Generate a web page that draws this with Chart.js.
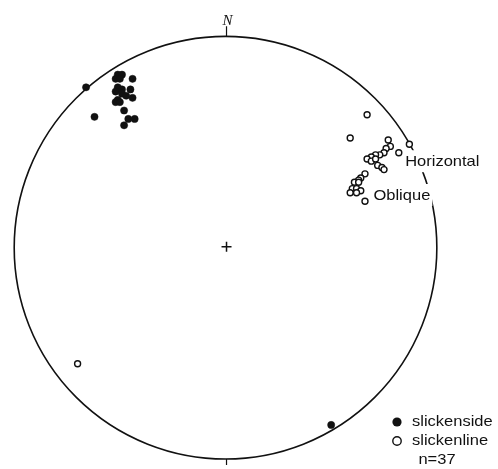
<!DOCTYPE html>
<html>
<head>
<meta charset="utf-8">
<script src="https://cdn.jsdelivr.net/npm/chart.js@4.4.1/dist/chart.umd.min.js"></script>
<style>
  html, body { margin: 0; padding: 0; background: #fff; }
  #wrap { width: 498px; height: 469px; }
</style>
</head>
<body>
<div id="wrap"><canvas id="net"></canvas></div>
<script>
// points in unit-circle coords (stereonet radius = 1, centre = 0,0)
const sideX = [-0.66, -0.51, -0.49, -0.52, -0.50, -0.44, -0.51, -0.49, -0.45, -0.52, -0.49,
               -0.47, -0.44, -0.51, -0.52, -0.50, -0.48, -0.46, -0.43, -0.48, -0.62, 0.50];
const sideY = [0.76, 0.82, 0.82, 0.80, 0.80, 0.80, 0.76, 0.75, 0.75, 0.74, 0.73,
               0.72, 0.71, 0.70, 0.69, 0.69, 0.65, 0.61, 0.61, 0.58, 0.62, -0.84];

const lineX = [0.67, 0.59, 0.77, 0.78, 0.76, 0.75, 0.73, 0.71, 0.69, 0.67, 0.69, 0.71, 0.72, 0.74,
               0.75, 0.82, 0.87, 0.66, 0.64, 0.63, 0.61, 0.63, 0.60, 0.62, 0.64, 0.59, 0.62, 0.66, -0.70];
const lineY = [0.63, 0.52, 0.51, 0.48, 0.47, 0.45, 0.44, 0.44, 0.43, 0.42, 0.41, 0.42, 0.39, 0.38,
               0.37, 0.45, 0.49, 0.35, 0.33, 0.32, 0.31, 0.31, 0.28, 0.28, 0.27, 0.26, 0.26, 0.22, -0.55];

const legendLabels = ['slickenside', 'slickenline'];
const countLabel = 'n=37';
const notes = [
    { text: 'Horizontal', x: 0.85, y: 0.405 },
    { text: 'Oblique', x: 0.70, y: 0.245 }
];

const toPts = (xs, ys) => xs.map((x, i) => ({ x: x, y: ys[i] }));

// text in the figure is a slightly wide sans
function wideText(ctx, txt, px, py, align) {
    const sx = 1.1;
    ctx.save();
    ctx.translate(px, py);
    ctx.scale(sx, 1);
    ctx.textAlign = align || 'left';
    ctx.fillText(txt, 0, 0);
    ctx.restore();
    return ctx.measureText(txt).width * sx;
}

const netFrame = {
    id: 'netFrame',
    beforeDatasetsDraw(chart) {
        const { ctx, scales: { x, y } } = chart;
        const cx = x.getPixelForValue(0);
        const cy = y.getPixelForValue(0);
        const r = x.getPixelForValue(1) - cx;
        ctx.save();
        ctx.strokeStyle = '#111';
        ctx.lineWidth = 1.6;
        ctx.beginPath();
        ctx.arc(cx, cy, r, 0, Math.PI * 2);
        ctx.stroke();
        // N tick and bottom tick
        ctx.lineWidth = 1.2;
        ctx.beginPath();
        ctx.moveTo(cx + 1, cy - r);
        ctx.lineTo(cx + 1, cy - r - 10);
        ctx.moveTo(cx + 1, cy + r);
        ctx.lineTo(cx + 1, cy + r + 6);
        ctx.stroke();
        // centre cross
        ctx.lineWidth = 1.5;
        ctx.beginPath();
        ctx.moveTo(cx - 4, cy - 1);
        ctx.lineTo(cx + 6, cy - 1);
        ctx.moveTo(cx + 1, cy - 6);
        ctx.lineTo(cx + 1, cy + 4);
        ctx.stroke();

        ctx.fillStyle = '#111';
        ctx.font = 'italic 15px "Liberation Serif"';
        ctx.textAlign = 'center';
        ctx.textBaseline = 'alphabetic';
        ctx.fillText('N', cx + 2, cy - r - 11);

        // cluster labels, white box breaks the primitive
        ctx.font = '15px "Liberation Sans"';
        ctx.textBaseline = 'middle';
        notes.forEach(n => {
            const px = x.getPixelForValue(n.x);
            const py = y.getPixelForValue(n.y);
            const w = ctx.measureText(n.text).width * 1.1;
            ctx.fillStyle = '#fff';
            ctx.fillRect(px - 2, py - 12, w + 4, 22);
            ctx.fillStyle = '#111';
            wideText(ctx, n.text, px, py);
        });
        ctx.restore();
    },
    afterDraw(chart) {
        const { ctx } = chart;
        ctx.save();
        ctx.font = '15px "Liberation Sans"';
        ctx.textBaseline = 'middle';
        ctx.fillStyle = '#111';
        ctx.strokeStyle = '#111';
        ctx.lineWidth = 1.4;
        ctx.beginPath();
        ctx.arc(397, 422, 4.6, 0, Math.PI * 2);
        ctx.fill();
        ctx.beginPath();
        ctx.arc(397, 441, 4.2, 0, Math.PI * 2);
        ctx.stroke();
        wideText(ctx, legendLabels[0], 412, 422);
        wideText(ctx, legendLabels[1], 412, 441);
        wideText(ctx, countLabel, 437, 460, 'center');
        ctx.restore();
    }
};

new Chart(document.getElementById('net'), {
    type: 'scatter',
    data: {
        datasets: [
            {
                label: legendLabels[0],
                data: toPts(sideX, sideY),
                pointRadius: 3.6,
                pointBackgroundColor: '#111',
                pointBorderColor: '#111',
                pointBorderWidth: 0.5
            },
            {
                label: legendLabels[1],
                data: toPts(lineX, lineY),
                pointRadius: 3,
                pointBackgroundColor: '#fff',
                pointBorderColor: '#111',
                pointBorderWidth: 1.4
            }
        ]
    },
    options: {
        responsive: true,
        maintainAspectRatio: false,
        animation: false,
        layout: { padding: 0 },
        plugins: { legend: { display: false }, tooltip: { enabled: false } },
        scales: {
            x: { type: 'linear', display: false, min: -225 / 216, max: 273 / 216 },
            y: { type: 'linear', display: false, min: -221 / 216, max: 248 / 216 }
        }
    },
    plugins: [netFrame]
});
</script>
</body>
</html>
